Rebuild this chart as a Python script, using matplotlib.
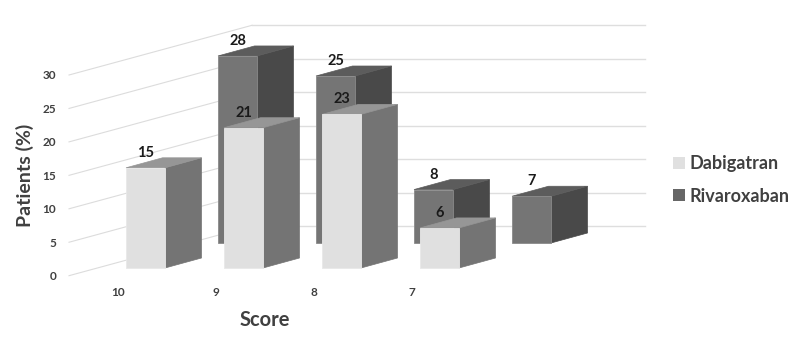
import matplotlib
matplotlib.use("Agg")
import matplotlib.pyplot as plt
from matplotlib.patches import Polygon, Patch

plt.rcParams['font.family'] = ['Lato', 'DejaVu Sans']

categories = ["10", "9", "8", "7", ""]
dabigatran = [15, 21, 23, 6, None]
rivaroxaban = [None, 28, 25, 8, 7]
y_ticks = [0, 5, 10, 15, 20, 25, 30]

# the 3d look is hand made: everything is placed in pixels from these
PX_PER_UNIT = 6.68
CAT_STEP = 98.0
BAR_W = 39.0
DEPTH_X = 36.5
DEPTH_Y = 10.0
TEXT = "#404040"


def draw_box(ax, left, base, value, face, side, top, z, edge):
    h = value * PX_PER_UNIT
    right = left + BAR_W
    ytop = base - h
    ax.add_patch(Polygon([(right, base), (right + DEPTH_X, base - DEPTH_Y),
                          (right + DEPTH_X, ytop - DEPTH_Y), (right, ytop)],
                         fc=side, ec=side, lw=0.5, zorder=z))
    ax.add_patch(Polygon([(left, ytop), (left + DEPTH_X, ytop - DEPTH_Y),
                          (right + DEPTH_X, ytop - DEPTH_Y), (right, ytop)],
                         fc=top, ec=top, lw=0.5, zorder=z))
    ax.add_patch(Polygon([(left, base), (right, base), (right, ytop), (left, ytop)],
                         fc=face, ec=edge, lw=0.6, zorder=z + 0.1))
    ax.text(left + BAR_W / 2, ytop - 15, str(value), ha="center", va="center",
            fontsize=10.5, fontweight="bold", color="#1a1a1a", zorder=z + 0.2)


def main():
    fig = plt.figure(figsize=(8, 3.44), dpi=100)
    ax = fig.add_axes([0, 0, 1, 1])
    ax.set_xlim(0, 800)
    ax.set_ylim(344, 0)
    ax.axis("off")

    # walls: slanted lines on the left, flat ones along the back
    for v in y_ticks:
        y_left = 275.7 - v * 6.69
        y_back = 226.0 - v * 6.69
        ax.plot([69, 252], [y_left, y_back], color="#dcdcdc", lw=0.8, zorder=1)
        ax.plot([252, 645], [y_back, y_back], color="#dedede", lw=1.0, zorder=1)
        ax.text(56, y_left + 0.8, str(v), ha="right", va="center", fontsize=8.5,
                fontweight="bold", color=TEXT)

    for i, cat in enumerate(categories):
        ax.text(118 + i * CAT_STEP, 293, cat, ha="center", va="center", fontsize=8.5,
                fontweight="bold", color=TEXT)

    # back row first, then the front row over it
    for i, v in enumerate(rivaroxaban):
        if v is not None:
            draw_box(ax, 120 + i * CAT_STEP, 243, v, "#757575", "#494949", "#5c5c5c", 2, "#8a8a8a")
    for i, v in enumerate(dabigatran):
        if v is not None:
            draw_box(ax, 126 + i * CAT_STEP, 268, v, "#e0e0e0", "#747474", "#969696", 3, "#e8e8e8")

    ax.text(25, 175, "Patients (%)", rotation=90, ha="center", va="center",
            fontsize=14, fontweight="bold", color=TEXT)
    ax.text(264.5, 320, "Score", ha="center", va="center",
            fontsize=14.5, fontweight="bold", color=TEXT)

    handles = [Patch(fc="#e0e0e0", label="Dabigatran"), Patch(fc="#666666", label="Rivaroxaban")]
    ax.legend(handles=handles, loc="center left", bbox_to_anchor=(0.821, 0.477), frameon=False,
              handlelength=0.65, handleheight=0.65, handletextpad=0.25, labelspacing=0.85,
              labelcolor=TEXT, prop={"size": 13, "weight": "bold"})

    fig.savefig("out.png", dpi=100)


if __name__ == "__main__":
    main()
